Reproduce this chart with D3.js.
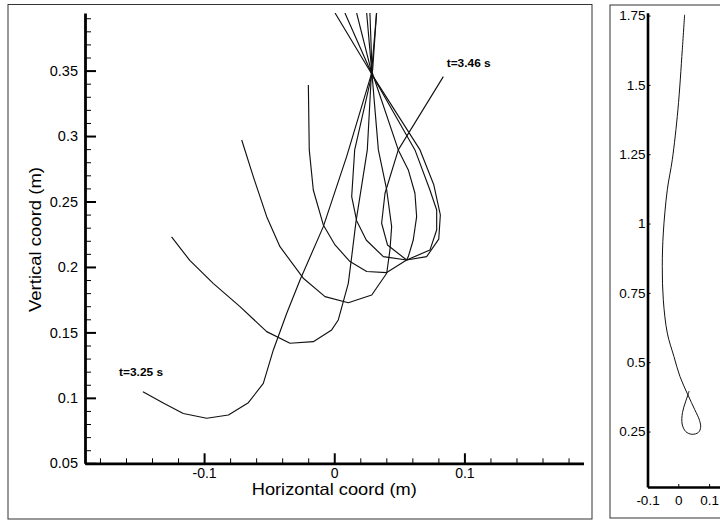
<!DOCTYPE html>
<html>
<head>
<meta charset="utf-8">
<script src="https://cdn.jsdelivr.net/npm/d3@7"></script>
<style>
  html, body { margin: 0; padding: 0; background: #fff; }
  svg { display: block; }
  text { font-family: "Liberation Sans", Arial, Helvetica, sans-serif; fill: #000; }
</style>
</head>
<body>
<svg id="chart" width="720" height="521"></svg>
<script>
// ---- Cable end positions (horizontal, vertical in metres), fixed end first ----
const cable1 = [ // t = 3.25 s
  [0.0325,0.394],[0.0295,0.3505],[0.0095,0.2843],[-0.0084,0.2308],[-0.0263,0.19],
  [-0.0365,0.1646],[-0.0468,0.1366],[-0.0545,0.111],[-0.066,0.0963],[-0.0813,0.0869],
  [-0.098,0.0844],[-0.116,0.088],[-0.131,0.0958],[-0.147,0.1047]
];
const cable2 = [
  [0.0325,0.394],[0.0285,0.347],[0.0254,0.2894],[0.0167,0.2346],[0.0134,0.2079],
  [0.0108,0.1875],[0.0031,0.1595],[-0.002,0.1519],[-0.0161,0.1429],[-0.034,0.1417],
  [-0.0519,0.1506],[-0.0724,0.1697],[-0.093,0.1875],[-0.111,0.205],[-0.125,0.223]
];
const cable3 = [
  [0.0274,0.394],[0.0292,0.345],[0.0339,0.2894],[0.0403,0.2588],[0.0441,0.2308],
  [0.0428,0.213],[0.0403,0.1952],[0.0288,0.1786],[0.0108,0.1727],[-0.0071,0.1773],
  [-0.0238,0.1914],[-0.0417,0.2155],[-0.0519,0.2384],[-0.0622,0.269],[-0.0711,0.297]
];
const cable4 = [
  [0.0249,0.394],[0.0288,0.3495],[0.0492,0.2894],[0.0569,0.2741],[0.062,0.2563],
  [0.0633,0.2384],[0.0607,0.2206],[0.0569,0.2079],[0.0556,0.2053],[0.0403,0.1957],
  [0.0249,0.1965],[0.0121,0.2041],[0.0006,0.2168],[-0.0084,0.2321],[-0.0161,0.2588],
  [-0.0192,0.2894],[-0.0199,0.339]
];
const cable5 = [
  [0.0172,0.394],[0.029,0.3475],[0.0157,0.2894],[0.0134,0.2538],[0.0172,0.2353],
  [0.0247,0.2204],[0.0377,0.2079],[0.0556,0.2053],[0.0735,0.2129],[0.0787,0.2282],
  [0.0787,0.2435],[0.0735,0.2588],[0.062,0.2894],[0.0293,0.3465],[0.0082,0.394]
];
const cable6 = [ // t = 3.46 s
  [0.0006,0.394],[0.0295,0.3462],[0.0659,0.2894],[0.0764,0.263],[0.0815,0.2397],
  [0.0803,0.2213],[0.071,0.2079],[0.0556,0.2053],[0.0409,0.2168],[0.0364,0.2334],
  [0.039,0.2563],[0.0492,0.2894],[0.0838,0.3454]
];
const cables = [cable1, cable2, cable3, cable4, cable5, cable6];

// time labels placed beside the free ends of the first and last shapes
const timeLabels = ["t=3.25 s", "t=3.46 s"];
const timeLabelAnchors = [[-0.1653, 0.1167], [0.0864, 0.353]];

// whole cable at one instant (overview panel)
const fullCable = [
  [0.0205,1.753],[0.013,1.627],[-0.0013,1.41],[-0.0195,1.23],[-0.0357,1.122],
  [-0.0487,0.966],[-0.052,0.845],[-0.0487,0.725],[-0.0357,0.605],[-0.0143,0.521],
  [0.0052,0.449],[0.0312,0.382],[0.053,0.33],[0.069,0.29],[0.0725,0.265],
  [0.0655,0.247],[0.045,0.24],[0.024,0.25],[0.0125,0.277],[0.0135,0.318],
  [0.0235,0.357],[0.0312,0.382],[0.035,0.396]
];

// tick values and labels
const xMajorL = [-0.1, 0, 0.1];
const xLabelsL = ["-0.1", "0", "0.1"];
const yMajorL = [0.05, 0.1, 0.15, 0.2, 0.25, 0.3, 0.35];
const yLabelsL = ["0.05", "0.1", "0.15", "0.2", "0.25", "0.3", "0.35"];
const xMajorR = [-0.1, 0, 0.1];
const xLabelsR = ["-0.1", "0", "0.1"];
const yMajorR = [0.25, 0.5, 0.75, 1, 1.25, 1.5, 1.75];
const yLabelsR = ["0.25", "0.5", "0.75", "1", "1.25", "1.5", "1.75"];

const svg = d3.select("#chart");

// ---------- detail panel ----------
const xL = d3.scaleLinear().domain([-0.1915, 0.1915]).range([85, 583.5]);
const yL = d3.scaleLinear().domain([0.05, 0.394]).range([463.3, 13]);

svg.append("rect").attr("x", 8).attr("y", 4.5).attr("width", 584).attr("height", 514.5)
  .attr("fill", "none").attr("stroke", "#333").attr("stroke-width", 1);

svg.append("clipPath").attr("id", "clipL").append("rect")
  .attr("x", 85).attr("y", 13).attr("width", 498.5).attr("height", 450.3);

const lineL = d3.line().x(d => xL(d[0])).y(d => yL(d[1]));
svg.append("g").attr("clip-path", "url(#clipL)")
  .selectAll("path").data(cables).join("path")
  .attr("d", lineL).attr("fill", "none").attr("stroke", "#111")
  .attr("stroke-width", 1.15).attr("stroke-linejoin", "round");

svg.selectAll("text.tlabel").data(timeLabels).join("text")
  .attr("class", "tlabel")
  .attr("x", (d, i) => xL(timeLabelAnchors[i][0]))
  .attr("y", (d, i) => yL(timeLabelAnchors[i][1]))
  .attr("font-size", 10.5).attr("font-weight", "bold")
  .attr("textLength", 44).attr("lengthAdjust", "spacingAndGlyphs")
  .text(d => d);

const xMinorL = d3.range(-18, 19, 2).map(v => v / 100).filter(v => Math.abs(v * 10 - Math.round(v * 10)) > 1e-6);
const yMinorL = d3.range(5, 40).map(v => v / 100).filter(v => Math.abs(v * 20 - Math.round(v * 20)) > 1e-6);

const gx = svg.append("g").attr("transform", "translate(0,463.3)");
gx.call(d3.axisBottom(xL).tickValues(xMinorL).tickSizeInner(-5).tickSizeOuter(0).tickFormat(""));
gx.call(g => g.select(".domain").remove());
const gx2 = svg.append("g").attr("transform", "translate(0,463.3)");
gx2.call(d3.axisBottom(xL).tickValues(xMajorL).tickSizeInner(-10).tickSizeOuter(0)
  .tickPadding(5).tickFormat((d, i) => xLabelsL[i]));
gx2.select(".domain").attr("stroke-width", 2.8).attr("stroke", "#000");
gx2.selectAll(".tick line").attr("stroke-width", 2);
gx2.selectAll(".tick text").attr("font-size", 14).attr("font-family", null);

const gy = svg.append("g").attr("transform", "translate(85,0)");
gy.call(d3.axisLeft(yL).tickValues(yMinorL).tickSizeInner(-6).tickSizeOuter(0).tickFormat(""));
gy.call(g => g.select(".domain").remove());
const gy2 = svg.append("g").attr("transform", "translate(85,0)");
gy2.call(d3.axisLeft(yL).tickValues(yMajorL).tickSizeInner(-11).tickSizeOuter(0)
  .tickPadding(7).tickFormat((d, i) => yLabelsL[i]));
gy2.select(".domain").attr("stroke-width", 2.8).attr("stroke", "#000");
gy2.selectAll(".tick line").attr("stroke-width", 2);
gy2.selectAll(".tick text").attr("font-size", 14.5).attr("font-family", null);

svg.append("text").attr("x", xL(0)).attr("y", 495).attr("text-anchor", "middle")
  .attr("font-size", 16.5).attr("textLength", 165).attr("lengthAdjust", "spacingAndGlyphs")
  .text("Horizontal coord (m)");
svg.append("text").attr("transform", "translate(41,239.5) rotate(-90)").attr("text-anchor", "middle")
  .attr("font-size", 16.5).attr("textLength", 145).attr("lengthAdjust", "spacingAndGlyphs")
  .text("Vertical coord (m)");

// ---------- overview panel ----------
const xR = d3.scaleLinear().domain([-0.1, 0.2]).range([647.5, 739.9]);
const yR = d3.scaleLinear().domain([0.05, 1.76]).range([487, 12.8]);

svg.append("rect").attr("x", 610).attr("y", 5).attr("width", 140).attr("height", 513)
  .attr("fill", "none").attr("stroke", "#333").attr("stroke-width", 1);

const lineR = d3.line().x(d => xR(d[0])).y(d => yR(d[1])).curve(d3.curveCatmullRom.alpha(0.5));
svg.append("path").datum(fullCable).attr("d", lineR)
  .attr("fill", "none").attr("stroke", "#111").attr("stroke-width", 1);

const gxR = svg.append("g").attr("transform", "translate(0,487)");
gxR.call(d3.axisBottom(xR).tickValues(xMajorR).tickSizeInner(-3).tickSizeOuter(0)
  .tickPadding(8).tickFormat((d, i) => xLabelsR[i]));
gxR.select(".domain").attr("stroke-width", 2.6).attr("stroke", "#000");
gxR.selectAll(".tick text").attr("font-size", 13.5).attr("font-family", null);

const gyR = svg.append("g").attr("transform", "translate(647.5,0)");
gyR.call(d3.axisLeft(yR).tickValues(yMajorR).tickSizeInner(-3).tickSizeOuter(0)
  .tickPadding(2).tickFormat((d, i) => yLabelsR[i]));
gyR.select(".domain").attr("stroke-width", 2.6).attr("stroke", "#000");
gyR.selectAll(".tick text").attr("font-size", 13.5).attr("font-family", null);
</script>
</body>
</html>
